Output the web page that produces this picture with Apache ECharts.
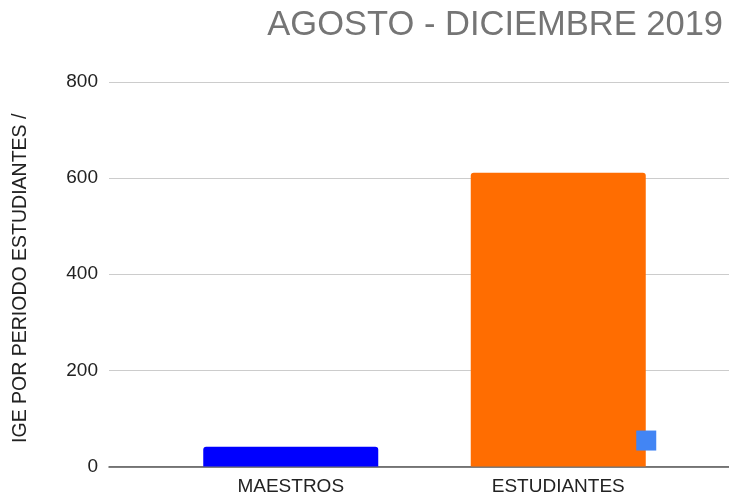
<!DOCTYPE html>
<html>
<head>
<meta charset="utf-8">
<script src="https://cdn.jsdelivr.net/npm/echarts@6/dist/echarts.min.js"></script>
<style>
html,body{margin:0;padding:0;background:#fff;}
#chart{width:729px;height:499px;}
</style>
</head>
<body>
<div id="chart"></div>
<script>
var titleText = 'AGOSTO - DICIEMBRE 2019';
var yAxisName = 'IGE POR PERIODO ESTUDIANTES /';
var categories = ['MAESTROS', 'ESTUDIANTES'];
var barValues = [41, 611];
var barColors = ['#0000ff', '#ff6d01'];
var markerValues = [null, 54];
var yTicks = [0, 200, 400, 600, 800];

var font = '"Liberation Sans", Arial, sans-serif';
var chart = echarts.init(document.getElementById('chart'), null, {renderer: 'canvas'});
chart.setOption({
  animation: false,
  backgroundColor: '#ffffff',
  title: {
    text: titleText,
    right: 1,
    top: 3,
    textStyle: {fontFamily: font, fontSize: 34.5, fontWeight: 'normal', color: '#757575'}
  },
  grid: [
    {left: 109, right: 0, top: 82, bottom: 32.5},
    {left: 157, width: 535, top: 82, bottom: 32.5}
  ],
  xAxis: [
    {
      gridIndex: 0, type: 'value', min: 0, max: 1,
      axisLine: {show: true, onZero: false, lineStyle: {color: '#555', width: 1.5}},
      axisTick: {show: false}, axisLabel: {show: false}, splitLine: {show: false}
    },
    {
      gridIndex: 1, type: 'category', data: categories,
      axisLine: {show: false}, axisTick: {show: false},
      axisLabel: {fontFamily: font, fontSize: 19, color: '#222', margin: 11}
    }
  ],
  yAxis: [
    {
      gridIndex: 0, type: 'value', min: yTicks[0], max: yTicks[yTicks.length - 1], interval: 200,
      name: yAxisName, nameLocation: 'middle', nameGap: 78,
      nameTextStyle: {fontFamily: font, fontSize: 19.5, color: '#222', padding: [0, 8, 0, 0]},
      axisLine: {show: false}, axisTick: {show: false},
      axisLabel: {fontFamily: font, fontSize: 19, color: '#222', margin: 11},
      splitLine: {lineStyle: {color: '#cccccc', width: 1}}
    },
    {
      gridIndex: 1, type: 'value', min: yTicks[0], max: yTicks[yTicks.length - 1], interval: 200,
      show: false, splitLine: {show: false}
    }
  ],
  series: [
    {
      type: 'bar', xAxisIndex: 1, yAxisIndex: 1,
      barWidth: 175,
      data: barValues.map(function (v, i) {
        return {value: v, itemStyle: {color: barColors[i], borderRadius: [3, 3, 0, 0]}};
      })
    },
    {
      type: 'scatter', xAxisIndex: 1, yAxisIndex: 1,
      symbol: 'rect', symbolSize: 20, symbolOffset: [88, 0],
      itemStyle: {color: '#4285f4', opacity: 1},
      data: markerValues
    }
  ]
});
</script>
</body>
</html>
